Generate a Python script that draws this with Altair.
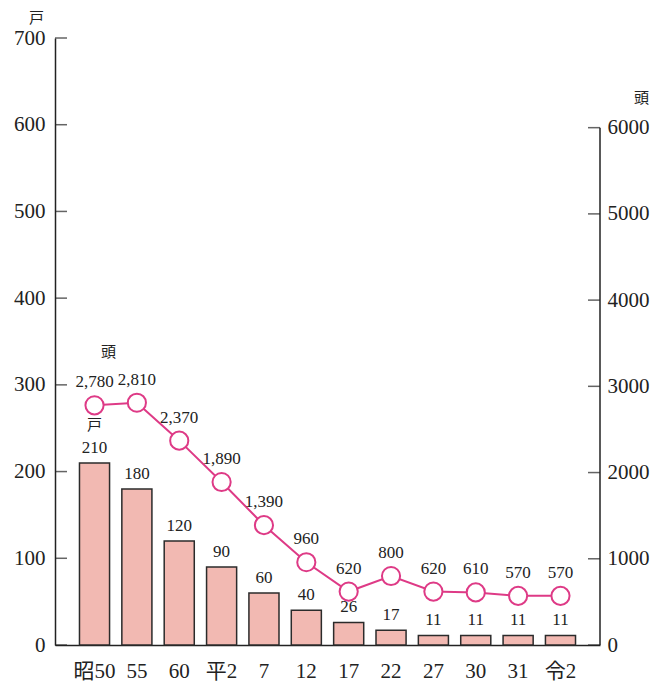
import altair as alt
import pandas as pd

years = ["昭50", "55", "60", "平2", "7", "12", "17", "22", "27", "30", "31", "令2"]
households = [210, 180, 120, 90, 60, 40, 26, 17, 11, 11, 11, 11]
heads = [2780, 2810, 2370, 1890, 1390, 960, 620, 800, 620, 610, 570, 570]
left_ticks = [0, 100, 200, 300, 400, 500, 600, 700]
right_ticks = [0, 1000, 2000, 3000, 4000, 5000, 6000]

df = pd.DataFrame({"year": years, "households": households, "heads": heads})
lt = pd.DataFrame({"households": left_ticks})
rt = pd.DataFrame({"heads": right_ticks})

FONT = "'Liberation Serif', 'Noto Sans CJK JP', serif"
PINK = "#de3a86"
INK = "#222222"
W, H = 545, 607

x_axis = alt.Axis(title=None, labelAngle=0, ticks=False, tickSize=0, labelPadding=15)
x = alt.X("year:N", sort=years,
          scale=alt.Scale(paddingInner=0.29, paddingOuter=0.578), axis=x_axis)

yl_scale = alt.Scale(domain=[0, 700], nice=False)
yr_scale = alt.Scale(domain=[0, 7040], nice=False)

left_axis = alt.Axis(
    values=left_ticks, format="d", title="戸", titleAngle=0, titleX=-19, titleY=-21,
    titleFontSize=15, titleAlign="center", titleBaseline="middle",
    ticks=False, tickSize=0, labelPadding=10,
)
right_axis = alt.Axis(
    orient="right", values=right_ticks, format="d", domain=False, title="頭",
    titleAngle=0, titleX=41, titleY=59, titleFontSize=15,
    titleAlign="center", titleBaseline="middle",
    ticks=False, tickSize=0, labelPadding=7,
)
yl = alt.Y("households:Q", scale=yl_scale, axis=left_axis)
yr = alt.Y("heads:Q", scale=yr_scale, axis=right_axis)

base = alt.Chart(df)

bars = base.mark_bar(color="#f2b9b2", stroke="#2b2b2b", strokeWidth=1.5).encode(x=x, y=yl)
left_tick_marks = alt.Chart(lt).mark_tick(
    color=INK, thickness=1.5, size=12, orient="horizontal"
).encode(x=alt.value(6), y=yl)
bar_text = base.mark_text(baseline="bottom", dy=-6, fontSize=17).encode(
    x=x, y=yl, text="households:Q")
hu_text = base.transform_filter(alt.datum.year == years[0]).mark_text(
    text="戸", dy=-38, fontSize=15, baseline="middle").encode(x=x, y=yl)

line = base.mark_line(color=PINK, strokeWidth=2).encode(x=x, y=yr)
axis_rule = base.transform_filter(alt.datum.year == years[0]).mark_rule(
    color=INK, strokeWidth=1.5
).encode(x=alt.value(W), y=alt.datum(0, scale=yr_scale, axis=right_axis), y2=alt.datum(6000))
right_tick_marks = alt.Chart(rt).mark_tick(
    color=INK, thickness=1.5, size=12, orient="horizontal"
).encode(x=alt.value(W - 6), y=yr)
points = base.mark_point(
    shape="circle", filled=True, fill="white", stroke=PINK, strokeWidth=2,
    size=330, opacity=1,
).encode(x=x, y=yr)
pt_text = base.mark_text(baseline="alphabetic", dy=-18, fontSize=17).encode(
    x=x, y=yr, text=alt.Text("heads:Q", format=","))
tou_text = base.transform_filter(alt.datum.year == years[0]).mark_text(
    text="頭", dx=14, dy=-53, fontSize=15, baseline="middle").encode(x=x, y=yr)

left = alt.layer(bars, left_tick_marks, bar_text, hu_text)
right = alt.layer(line, axis_rule, right_tick_marks, points, pt_text, tou_text)

chart = (
    alt.layer(left, right)
    .resolve_scale(y="independent")
    .properties(
        width=W, height=H, autosize="none",
        padding={"left": 47, "top": 30, "right": 60, "bottom": 36},
    )
    .configure_view(stroke=None)
    .configure_axis(
        labelFont=FONT, labelFontSize=21, labelColor=INK, domainColor=INK,
        tickColor=INK, domainWidth=1.5, tickWidth=1.5, grid=False,
        titleFont=FONT, titleFontWeight="normal", titleColor=INK,
    )
    .configure_text(font=FONT, color=INK)
)

chart.save("out.html", embed_options={"renderer": "svg", "actions": False})
